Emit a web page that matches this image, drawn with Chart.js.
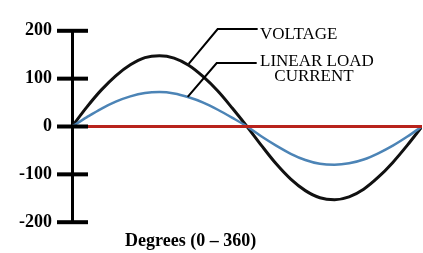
<!DOCTYPE html>
<html>
<head>
<meta charset="utf-8">
<script src="https://cdn.jsdelivr.net/npm/chart.js@4"></script>
<style>
  html, body { margin: 0; padding: 0; background: #fff; }
  #wrap { width: 423px; height: 253px; }
</style>
</head>
<body>
<div id="wrap"><canvas id="wave-chart"></canvas></div>
<script>
// values, every 15 degrees
const degrees = [0, 15, 30, 45, 60, 75, 90, 105, 120, 135, 150, 165, 180,
  195, 210, 225, 240, 255, 270, 285, 300, 315, 330, 345, 360];
const voltage = [0, 40, 76, 106, 129, 144, 148, 143, 128, 104, 74, 38, 0,
  -40, -78, -110, -134, -149, -153, -147, -131, -106, -75, -39, 0];
const current = [0, 19, 37, 52, 63, 70, 72, 69, 61, 50, 35, 18, 0,
  -21, -40, -57, -70, -78, -80, -77, -69, -56, -40, -21, 0];
const baseline = [0, 0];
const baselineDeg = [0, 360];
const yTicks = [-200, -100, 0, 100, 200];
const xTitle = "Degrees (0 \u2013 360)";

const serif = "'Liberation Serif', 'Times New Roman', serif";

const toPoints = (xs, ys) => xs.map((x, i) => ({ x: x, y: ys[i] }));

const decorations = {
  id: "decorations",
  afterDraw(chart) {
    const ctx = chart.ctx;
    const area = chart.chartArea;
    const xs = chart.scales.x;
    const ys = chart.scales.y;
    ctx.save();

    // tick marks crossing the axis
    ctx.strokeStyle = "#000";
    ctx.lineWidth = 4;
    yTicks.forEach((v) => {
      const py = ys.getPixelForValue(v);
      ctx.beginPath();
      ctx.moveTo(area.left - 15, py);
      ctx.lineTo(area.left + 16, py);
      ctx.stroke();
    });

    // leader lines
    ctx.lineWidth = 2;
    const vx = xs.getPixelForValue(120);
    const vy = ys.getPixelForValue(131);
    ctx.beginPath();
    ctx.moveTo(vx, vy);
    ctx.lineTo(vx + 29, 29);
    ctx.lineTo(vx + 69, 29);
    ctx.stroke();

    const cx = xs.getPixelForValue(119);
    const cy = ys.getPixelForValue(62);
    ctx.beginPath();
    ctx.moveTo(cx, cy);
    ctx.lineTo(cx + 29, 63);
    ctx.lineTo(cx + 69, 63);
    ctx.stroke();

    // labels
    ctx.fillStyle = "#000";
    ctx.textBaseline = "alphabetic";
    ctx.font = "17px " + serif;
    ctx.textAlign = "left";
    ctx.fillText("VOLTAGE", 260, 39);
    ctx.fillText("LINEAR LOAD", 260, 66);
    ctx.textAlign = "center";
    ctx.fillText("CURRENT", 314, 81);

    ctx.font = "bold 18px " + serif;
    ctx.textAlign = "left";
    ctx.fillText(xTitle, 125, 246);
    ctx.restore();
  },
};

new Chart(document.getElementById("wave-chart"), {
  type: "line",
  data: {
    datasets: [
      {
        label: "Baseline",
        data: toPoints(baselineDeg, baseline),
        borderColor: "#b8231c",
        borderWidth: 3,
        pointRadius: 0,
      },
      {
        label: "Linear load current",
        data: toPoints(degrees, current),
        borderColor: "#4c84b6",
        borderWidth: 2.5,
        pointRadius: 0,
        cubicInterpolationMode: "monotone",
      },
      {
        label: "Voltage",
        data: toPoints(degrees, voltage),
        borderColor: "#111111",
        borderWidth: 3,
        pointRadius: 0,
        cubicInterpolationMode: "monotone",
      },
    ],
  },
  options: {
    responsive: true,
    maintainAspectRatio: false,
    animation: false,
    layout: { padding: { top: 18, right: 1, bottom: 29, left: 0 } },
    plugins: {
      legend: { display: false },
      tooltip: { enabled: false },
    },
    scales: {
      x: {
        type: "linear",
        min: 0,
        max: 360,
        display: false,
      },
      y: {
        min: -200,
        max: 200,
        afterFit: (scale) => { scale.width = 72; },
        afterBuildTicks: (scale) => {
          scale.ticks = yTicks.map((v) => ({ value: v }));
        },
        border: { display: true, width: 3, color: "#000" },
        grid: { display: false, drawTicks: false },
        ticks: {
          padding: 20,
          color: "#000",
          font: { family: serif, size: 18, weight: "bold" },
        },
      },
    },
  },
  plugins: [decorations],
});
</script>
</body>
</html>
